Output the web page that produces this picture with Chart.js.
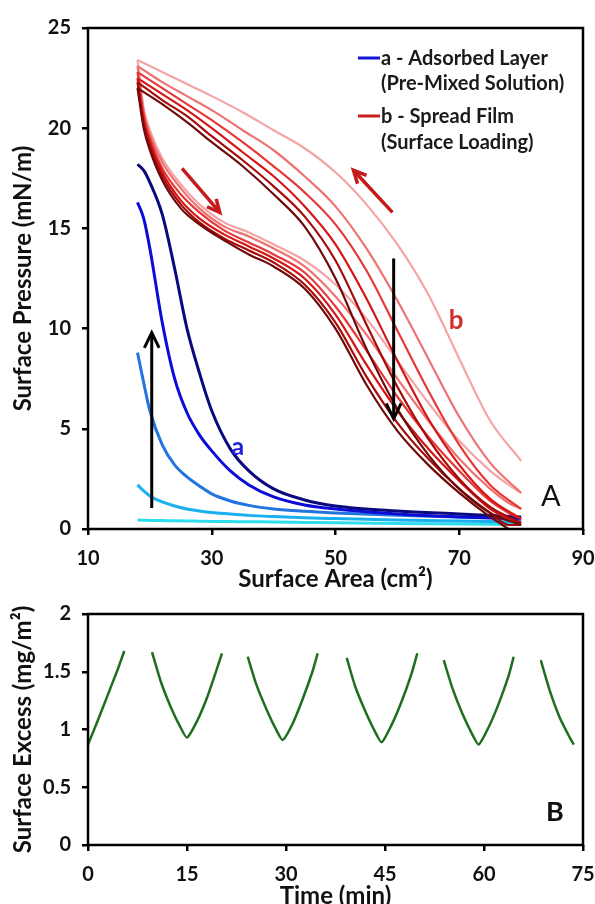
<!DOCTYPE html>
<html lang="en">
<head>
<meta charset="UTF-8">
<title>Surface pressure isotherms and surface excess</title>
<script src="https://cdn.jsdelivr.net/npm/chart.js"></script>
<style>
    body { margin: 0; background: #fff; }
    #wrapA { position: absolute; left: 0; top: 0; width: 595px; height: 590px; }
    #wrapB { position: absolute; left: 0; top: 590px; width: 595px; height: 314px; }
</style>
</head>
<body>
<div id="wrapA"><canvas id="chartA" width="595" height="590"></canvas></div>
<div id="wrapB"><canvas id="chartB" width="595" height="314"></canvas></div>

<script>
// ---------- Panel A : surface pressure vs area ----------
const xTicksA = [10, 30, 50, 70, 90];
const yTicksA = [0, 5, 10, 15, 20, 25];

// (a) adsorbed layer, one curve per cycle (cyan -> navy)
const areaBlue = [18, 19, 20, 22, 24, 26, 28, 30, 33, 36, 40, 45, 50, 60, 70, 80];
const blue1 = [0.45, 0.44, 0.43, 0.42, 0.41, 0.40, 0.39, 0.38, 0.37, 0.36, 0.35, 0.33, 0.31, 0.28, 0.25, 0.22];
const blue2 = [2.2, 1.9, 1.65, 1.35, 1.15, 1.0, 0.9, 0.82, 0.75, 0.68, 0.62, 0.56, 0.52, 0.45, 0.4, 0.35];
const blue3 = [8.8, 7.3, 5.9, 4.2, 3.2, 2.6, 2.15, 1.75, 1.4, 1.18, 1.0, 0.88, 0.8, 0.68, 0.6, 0.52];
const blue4 = [16.3, 15.5, 14.0, 10.3, 7.5, 5.8, 4.7, 3.9, 2.9, 2.2, 1.6, 1.2, 1.0, 0.75, 0.6, 0.5];
const blue5 = [18.2, 17.9, 17.3, 15.7, 13.0, 10.0, 7.8, 5.9, 4.0, 2.9, 2.0, 1.45, 1.15, 0.9, 0.75, 0.6];
const blueColors = ['#30DDEE', '#1AAFEE', '#2274DE', '#0C0CD8', '#0A0A7E'];

// (b) spread film, compression (upper) and expansion (lower) branch per cycle
const areaUp = [18, 22, 26, 30, 35, 40, 45, 50, 55, 60, 65, 70, 75, 80];
const up1 = [23.4, 22.8, 22.2, 21.6, 20.8, 19.9, 19.0, 17.8, 16.2, 14.2, 11.7, 8.5, 5.4, 3.4];
const up2 = [23.1, 22.3, 21.6, 20.9, 19.9, 18.9, 17.6, 16.1, 14.0, 11.4, 8.5, 5.6, 3.3, 1.8];
const up3 = [22.8, 22.0, 21.2, 20.4, 19.3, 18.1, 16.8, 15.2, 12.9, 9.9, 6.9, 4.2, 2.2, 1.0];
const up4 = [22.5, 21.7, 20.9, 20.0, 18.8, 17.6, 16.1, 14.2, 11.5, 8.4, 5.5, 3.2, 1.5, 0.5];
const up5 = [22.3, 21.4, 20.6, 19.6, 18.4, 17.1, 15.6, 13.4, 10.2, 7.1, 4.5, 2.5, 1.1, 0.3];
const up6 = [22.0, 21.2, 20.3, 19.3, 18.1, 16.7, 15.1, 12.5, 9.0, 6.0, 3.7, 2.0, 0.8, 0.2];

const areaDown = [18, 19, 20, 22, 25, 28, 32, 36, 40, 45, 50, 55, 60, 65, 70, 75, 78, 80];
const down1 = [23.4, 21.0, 19.9, 18.5, 17.2, 16.2, 15.3, 14.8, 14.2, 13.4, 12.2, 10.5, 8.4, 6.3, 4.4, 2.9, 2.2, 1.8];
const down2 = [23.1, 20.8, 19.7, 18.3, 17.0, 16.0, 15.1, 14.6, 14.0, 13.1, 11.6, 9.7, 7.5, 5.4, 3.5, 2.0, 1.3, 1.0];
const down3 = [22.8, 20.6, 19.5, 18.0, 16.7, 15.8, 14.9, 14.3, 13.7, 12.8, 11.1, 8.9, 6.6, 4.6, 2.9, 1.4, 0.8, 0.5];
const down4 = [22.5, 20.4, 19.3, 17.8, 16.4, 15.5, 14.7, 14.1, 13.5, 12.5, 10.7, 8.2, 5.9, 4.0, 2.4, 1.0, 0.5, 0.3];
const down5 = [22.3, 20.2, 19.1, 17.6, 16.2, 15.3, 14.5, 13.9, 13.3, 12.2, 10.3, 7.6, 5.3, 3.5, 2.0, 0.8, 0.2, 0.2];
const down6 = [22.0, 20.0, 18.9, 17.4, 16.0, 15.2, 14.4, 13.7, 13.1, 12.0, 10.0, 7.2, 4.9, 3.2, 1.8, 0.6, 0.0, null];
const redColors = ['#F4A4A4', '#EE7272', '#E63838', '#D41616', '#A80A0A', '#6E0A0A'];

// ---------- Panel B : surface excess vs time ----------
const xTicksB = [0, 15, 30, 45, 60, 75];
const yTicksB = [0, 0.5, 1, 1.5, 2];
// null separates the measured stretches
const timeMin = [0, 1.5, 3, 4.5, 5.5, null,
    9.7, 11, 12.5, 14, 15, 16.5, 18, 19.5, 20.3, null,
    24.2, 25.5, 27, 28.5, 29.5, 31, 32.5, 34, 34.8, null,
    39.2, 40.5, 42, 43.5, 44.5, 46, 47.5, 49, 49.9, null,
    53.9, 55.2, 56.7, 58.2, 59.2, 60.7, 62.2, 63.7, 64.5, null,
    68.6, 70, 71.5, 73, 73.6];
const excess = [0.87, 1.08, 1.30, 1.52, 1.68, null,
    1.67, 1.42, 1.20, 1.02, 0.93, 1.07, 1.27, 1.52, 1.66, null,
    1.63, 1.39, 1.18, 1.00, 0.91, 1.05, 1.26, 1.50, 1.66, null,
    1.62, 1.37, 1.16, 0.98, 0.89, 1.04, 1.24, 1.48, 1.66, null,
    1.60, 1.36, 1.14, 0.96, 0.87, 1.02, 1.22, 1.46, 1.63, null,
    1.60, 1.33, 1.10, 0.93, 0.87];

const legendLines = [
    { text: 'a - Adsorbed Layer', color: '#1515D8' },
    { text: '(Pre-Mixed Solution)', color: null },
    { text: 'b - Spread Film', color: '#CC1C1C' },
    { text: '(Surface Loading)', color: null }
];

const FONT = 'Lato, "Open Sans", sans-serif';

function pts(xs, ys) {
    return xs.map((x, i) => ({ x: x, y: ys[i] }));
}

function arrow(ctx, x0, y0, x1, y1, color, w, head) {
    ctx.save();
    ctx.strokeStyle = color;
    ctx.lineWidth = w;
    ctx.beginPath();
    ctx.moveTo(x0, y0);
    ctx.lineTo(x1, y1);
    ctx.stroke();
    const a = Math.atan2(y1 - y0, x1 - x0);
    ctx.beginPath();
    ctx.moveTo(x1 - head * Math.cos(a - 0.45), y1 - head * Math.sin(a - 0.45));
    ctx.lineTo(x1, y1);
    ctx.lineTo(x1 - head * Math.cos(a + 0.45), y1 - head * Math.sin(a + 0.45));
    ctx.stroke();
    ctx.restore();
}

// frame round the plot area (all four sides)
const frame = {
    id: 'frame',
    afterDatasetsDraw(chart) {
        const { ctx, chartArea: c } = chart;
        ctx.save();
        ctx.strokeStyle = '#000';
        ctx.lineWidth = 2.5;
        ctx.strokeRect(c.left, c.top, c.right - c.left, c.bottom - c.top);
        ctx.restore();
    }
};

function axes(xTicks, yTicks, xTitle, yTitle, xMin, xMax, yMin, yMax, xHeight, xTitleDrop) {
    const tickFont = { family: FONT, size: 20, weight: 'bold' };
    const titleFont = { family: FONT, size: 24, weight: 'bold' };
    return {
        x: {
            type: 'linear', min: xMin, max: xMax,
            afterBuildTicks: s => { s.ticks = xTicks.map(v => ({ value: v })); },
            afterFit: s => { s.height = xHeight; s.paddingLeft = 0; s.paddingRight = 0; },
            grid: { drawOnChartArea: false, drawTicks: true, tickLength: 6, color: '#000', lineWidth: 2.5 },
            border: { display: false },
            ticks: { color: '#111', font: tickFont, padding: 12, maxRotation: 0, callback: v => String(v) },
            title: { display: true, text: xTitle, color: '#111', font: titleFont, padding: { top: 0, bottom: -xTitleDrop } }
        },
        y: {
            type: 'linear', min: yMin, max: yMax,
            afterBuildTicks: s => { s.ticks = yTicks.map(v => ({ value: v })); },
            afterFit: s => { s.width = 88; s.paddingTop = 0; s.paddingBottom = 0; },
            grid: { drawOnChartArea: false, drawTicks: true, tickLength: 6, color: '#000', lineWidth: 2.5 },
            border: { display: false },
            ticks: { color: '#111', font: tickFont, padding: 11, callback: v => String(v) },
            title: { display: true, text: yTitle, color: '#111', font: titleFont, padding: { top: 9, bottom: 0 } }
        }
    };
}

// ---------- chart A ----------
const notesA = {
    id: 'notesA',
    afterDatasetsDraw(chart) {
        const { ctx, scales: { x, y } } = chart;
        const px = v => x.getPixelForValue(v);
        const py = v => y.getPixelForValue(v);

        arrow(ctx, px(20.3), py(1.05), px(20.3), py(9.8), '#000', 3, 17);
        arrow(ctx, px(59.4), py(13.5), px(59.4), py(5.5), '#000', 3, 17);
        arrow(ctx, px(25.2), py(18.0), px(31.3), py(15.8), '#C41A1A', 3.5, 14);
        arrow(ctx, px(59.2), py(15.8), px(52.9), py(17.9), '#C41A1A', 3.5, 14);

        ctx.save();
        ctx.textAlign = 'center';
        ctx.textBaseline = 'middle';
        ctx.font = 'bold 25px ' + FONT;
        ctx.fillStyle = '#2222DD';
        ctx.fillText('a', px(34.2), py(4.1));
        ctx.font = 'bold 26px ' + FONT;
        ctx.fillStyle = '#D03030';
        ctx.fillText('b', px(69.5), py(10.4));
        ctx.font = '29px ' + FONT;
        ctx.fillStyle = '#111';
        ctx.fillText('A', px(84.8), py(1.6));

        // legend
        ctx.textAlign = 'left';
        ctx.font = 'bold 20px ' + FONT;
        const rows = [58, 83, 116, 142];
        legendLines.forEach((l, i) => {
            if (l.color) {
                ctx.strokeStyle = l.color;
                ctx.lineWidth = 3;
                ctx.beginPath();
                ctx.moveTo(358, rows[i]);
                ctx.lineTo(380, rows[i]);
                ctx.stroke();
            }
            ctx.fillStyle = '#1a1a1a';
            ctx.fillText(l.text, 381, rows[i] + 1);
        });
        ctx.restore();
    }
};

const upSets = [up1, up2, up3, up4, up5, up6];
const downSets = [down1, down2, down3, down4, down5, down6];
const blueSets = [blue1, blue2, blue3, blue4, blue5];

const datasetsA = [];
for (let i = upSets.length - 1; i >= 0; i--) {
    datasetsA.push({ data: pts(areaUp, upSets[i]), borderColor: redColors[i], borderWidth: 2.2 });
    datasetsA.push({ data: pts(areaDown, downSets[i]), borderColor: redColors[i], borderWidth: 2.2 });
}
for (let i = blueSets.length - 1; i >= 0; i--) {
    datasetsA.push({ data: pts(areaBlue, blueSets[i]), borderColor: blueColors[i], borderWidth: 3 });
}
datasetsA.forEach(d => {
    d.showLine = true;
    d.pointRadius = 0;
    d.cubicInterpolationMode = 'monotone';
    d.fill = false;
});

new Chart(document.getElementById('chartA'), {
    type: 'scatter',
    data: { datasets: datasetsA },
    options: {
        responsive: false,
        animation: false,
        layout: { padding: { top: 28, right: 12, left: 0, bottom: 0 } },
        plugins: { legend: { display: false }, tooltip: { enabled: false } },
        scales: axes(xTicksA, yTicksA, 'Surface Area (cm²)', 'Surface Pressure (mN/m)', 10, 90, 0, 25, 61, 4)
    },
    plugins: [frame, notesA]
});

// ---------- chart B ----------
const notesB = {
    id: 'notesB',
    afterDatasetsDraw(chart) {
        const { ctx, chartArea: c } = chart;
        ctx.save();
        ctx.font = 'bold 27px ' + FONT;
        ctx.fillStyle = '#111';
        ctx.textAlign = 'center';
        ctx.textBaseline = 'middle';
        ctx.fillText('B', c.right - 28, c.bottom - 33);
        ctx.restore();
    }
};

new Chart(document.getElementById('chartB'), {
    type: 'scatter',
    data: {
        datasets: [{
            data: pts(timeMin, excess),
            showLine: true,
            pointRadius: 0,
            borderColor: '#1F6E1F',
            borderWidth: 2.5,
            tension: 0.2,
            spanGaps: false
        }]
    },
    options: {
        responsive: false,
        animation: false,
        layout: { padding: { top: 24, right: 12, left: 0, bottom: 0 } },
        plugins: { legend: { display: false }, tooltip: { enabled: false } },
        scales: axes(xTicksB, yTicksB, 'Time (min)', 'Surface Excess (mg/m²)', 0, 75, 0, 2, 59, 7)
    },
    plugins: [frame, notesB]
});
</script>
</body>
</html>
